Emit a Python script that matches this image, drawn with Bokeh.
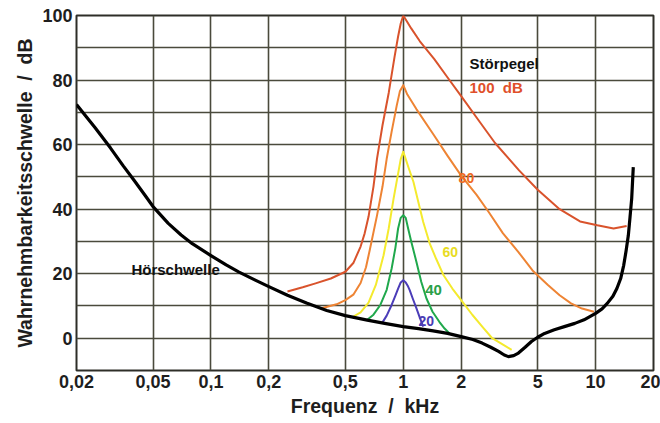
from bokeh.plotting import figure
from bokeh.models import Range1d, FixedTicker, CustomJSTickFormatter, ColumnDataSource
from bokeh.core.properties import value
from bokeh.embed import file_html
from bokeh.resources import INLINE

# ---- data (frequency in kHz, level in dB) ----
x_ticks = [0.02, 0.05, 0.1, 0.2, 0.5, 1, 2, 5, 10, 20]
y_ticks = [0, 20, 40, 60, 80, 100]
y_grid = [-10, 0, 10, 20, 30, 40, 50, 60, 70, 80, 90, 100]

# Hörschwelle (threshold in quiet)
hs_f = [0.02, 0.025, 0.03, 0.035, 0.04, 0.045, 0.05, 0.06, 0.07, 0.08, 0.1, 0.12, 0.14,
        0.17, 0.2, 0.25, 0.314, 0.4, 0.5, 0.65, 0.8, 1.0, 1.2, 1.43, 1.7, 2.0, 2.3, 2.57,
        2.85, 3.13, 3.35, 3.52, 3.75, 3.97, 4.3, 4.64, 5.0, 5.43, 6.1, 6.88, 7.8, 8.71,
        10, 10.8, 11.5, 12.3, 12.9, 13.5, 14.0, 14.4, 14.8, 15.1, 15.4, 15.7]
hs_db = [72.4, 65.2, 59.0, 53.4, 48.8, 44.6, 40.8, 35.6, 32.0, 29.3, 25.6, 22.7, 20.5,
         18.0, 16.0, 13.3, 10.9, 8.6, 7.0, 5.6, 4.6, 3.6, 3.0, 2.3, 1.5, 0.5, -0.4, -1.5,
         -2.8, -4.1, -5.2, -5.7, -5.4, -4.6, -2.8, -1.0, 0.3, 1.5, 2.6, 3.6, 4.6, 5.7,
         7.7, 9.1, 10.8, 13.0, 15.4, 18.5, 22.6, 27.0, 31.9, 37.5, 43.2, 53.0]

# masking curves, Störpegel 100 / 80 / 60 / 40 / 20 dB at 1 kHz
m100_f = [0.25, 0.3, 0.35, 0.42, 0.5, 0.55, 0.6, 0.63, 0.66, 0.7, 0.73, 0.78, 0.84, 0.9,
          0.94, 0.97, 1.0, 1.1, 1.22, 1.45, 1.7, 2.0, 2.5, 3.0, 4.0, 5.0, 6.5, 8.3, 10.2,
          12.4, 14.5]
m100_db = [14.5, 15.8, 17.0, 18.5, 20.6, 23.3, 28.4, 32.5, 37.7, 47.0, 55.6, 66.0, 76.0,
           87.0, 93.5, 97.5, 100, 96.0, 92.0, 86.5, 80.8, 75.0, 67.0, 60.5, 52.0, 46.0,
           40.0, 36.2, 35.0, 34.0, 34.8]

m80_f = [0.376, 0.45, 0.5, 0.55, 0.6, 0.64, 0.67, 0.73, 0.78, 0.82, 0.87, 0.924, 0.96,
         1.0, 1.05, 1.17, 1.43, 1.7, 2.0, 2.4, 2.78, 3.3, 3.97, 4.7, 5.65, 6.5, 7.45, 8.5,
         9.8]
m80_db = [9.3, 10.5, 11.8, 13.5, 17.1, 22.0, 27.4, 38.0, 47.0, 55.6, 64.0, 72.0, 76.5,
          78.4, 75.5, 71.0, 63.3, 56.5, 50.4, 44.5, 39.1, 32.5, 26.7, 21.0, 16.5, 13.3,
          10.8, 9.2, 8.2]

m60_f = [0.543, 0.6, 0.66, 0.72, 0.79, 0.84, 0.89, 0.94, 0.97, 1.0, 1.03, 1.07, 1.13,
         1.2, 1.27, 1.37, 1.48, 1.62, 1.8, 2.0, 2.29, 2.6, 2.9, 3.3, 3.66]
m60_db = [6.5, 8.0, 11.0, 16.5, 25.7, 34.0, 43.2, 51.0, 55.5, 57.8, 55.5, 52.5, 48.4,
          42.0, 36.0, 29.5, 24.7, 19.5, 15.4, 11.8, 7.2, 3.3, 0.0, -2.0, -3.6]

m40_f = [0.65, 0.7, 0.76, 0.82, 0.87, 0.91, 0.94, 0.97, 1.0, 1.03, 1.06, 1.1, 1.17, 1.24,
         1.32, 1.42, 1.54, 1.64, 1.74]
m40_db = [5.7, 7.3, 10.3, 15.0, 21.6, 28.0, 34.0, 37.3, 38.1, 37.3, 34.0, 30.0, 23.7,
          17.5, 12.3, 8.2, 5.1, 3.0, 1.5]

m20_f = [0.774, 0.82, 0.87, 0.91, 0.94, 0.97, 1.0, 1.03, 1.06, 1.08, 1.12, 1.17, 1.22,
         1.27]
m20_db = [4.6, 7.0, 10.3, 13.2, 15.4, 17.3, 18.0, 17.3, 16.0, 14.9, 12.3, 9.3, 6.3, 3.6]

NB = "\u00a0"
label_text = ["Störpegel", "100" + NB * 2 + "dB", "80", "60", "40", "20", "Hörschwelle"]
label_f = [2.21, 2.21, 1.94, 1.60, 1.30, 1.20, 0.0386]
label_db = [85.1, 77.6, 49.5, 26.6, 14.8, 5.2, 21.3]
label_color = ["#111111", "#e0502a", "#f06a22", "#e8dc22", "#2aa048", "#4a3cb5", "#111111"]
label_size = ["15px", "15px", "14px", "14px", "15px", "14px", "15px"]

FONT = "Liberation Sans"

p = figure(width=660, height=423, x_axis_type="log",
           x_range=Range1d(0.02, 20), y_range=Range1d(-10, 100),
           output_backend="svg", toolbar_location=None,
           min_border_left=76, min_border_right=7, min_border_top=15, min_border_bottom=53)
p.background_fill_color = "white"
p.border_fill_color = "white"
p.outline_line_color = "#2e2e28"
p.outline_line_width = 2

p.xaxis.ticker = FixedTicker(ticks=x_ticks, minor_ticks=[])
p.yaxis.ticker = FixedTicker(ticks=y_ticks, minor_ticks=[])
p.xgrid.ticker = FixedTicker(ticks=x_ticks, minor_ticks=[])
p.ygrid.ticker = FixedTicker(ticks=y_grid, minor_ticks=[])
p.xaxis.formatter = CustomJSTickFormatter(code="return String(tick).replace('.', ',');")
for g in (p.xgrid, p.ygrid):
    g.grid_line_color = "#4a4a3c"
    g.grid_line_width = 1.6

for ax in (p.xaxis, p.yaxis):
    ax.axis_line_color = None
    ax.major_tick_line_color = None
    ax.major_tick_out = 0
    ax.major_tick_in = 0
    ax.minor_tick_line_color = None
    ax.major_label_text_font = FONT
    ax.major_label_text_font_style = "bold"
    ax.major_label_text_font_size = "18px"
    ax.major_label_text_color = "#1e1e1e"
    ax.major_label_standoff = 4
    ax.axis_label_text_font = FONT
    ax.axis_label_text_font_style = "bold"
    ax.axis_label_text_font_size = "19.5px"
    ax.axis_label_text_color = "#1e1e1e"
p.xaxis.axis_label = "Frequenz" + NB * 2 + "/" + NB * 2 + "kHz"
p.yaxis.axis_label = "Wahrnehmbarkeitsschwelle" + NB * 2 + "/" + NB * 2 + "dB"
p.xaxis.axis_label_standoff = 4
p.yaxis.axis_label_standoff = 3

p.line(m100_f, m100_db, line_color="#d9532c", line_width=2, line_join="round")
p.line(m80_f, m80_db, line_color="#ee8434", line_width=2, line_join="round")
p.line(m60_f, m60_db, line_color="#f4ea2e", line_width=2, line_join="round")
p.line(m40_f, m40_db, line_color="#20a84c", line_width=2, line_join="round")
p.line(m20_f, m20_db, line_color="#4b3db8", line_width=2, line_join="round")
p.line(hs_f, hs_db, line_color="#000000", line_width=3.2, line_join="round")

src = ColumnDataSource(dict(x=label_f, y=label_db, text=label_text, color=label_color, size=label_size))
p.text(x="x", y="y", text="text", source=src, text_color="color", text_font_size="size",
       text_font=value(FONT), text_font_style="bold", text_align="left", text_baseline="middle")

open("out.html", "w").write(file_html(p, INLINE))
